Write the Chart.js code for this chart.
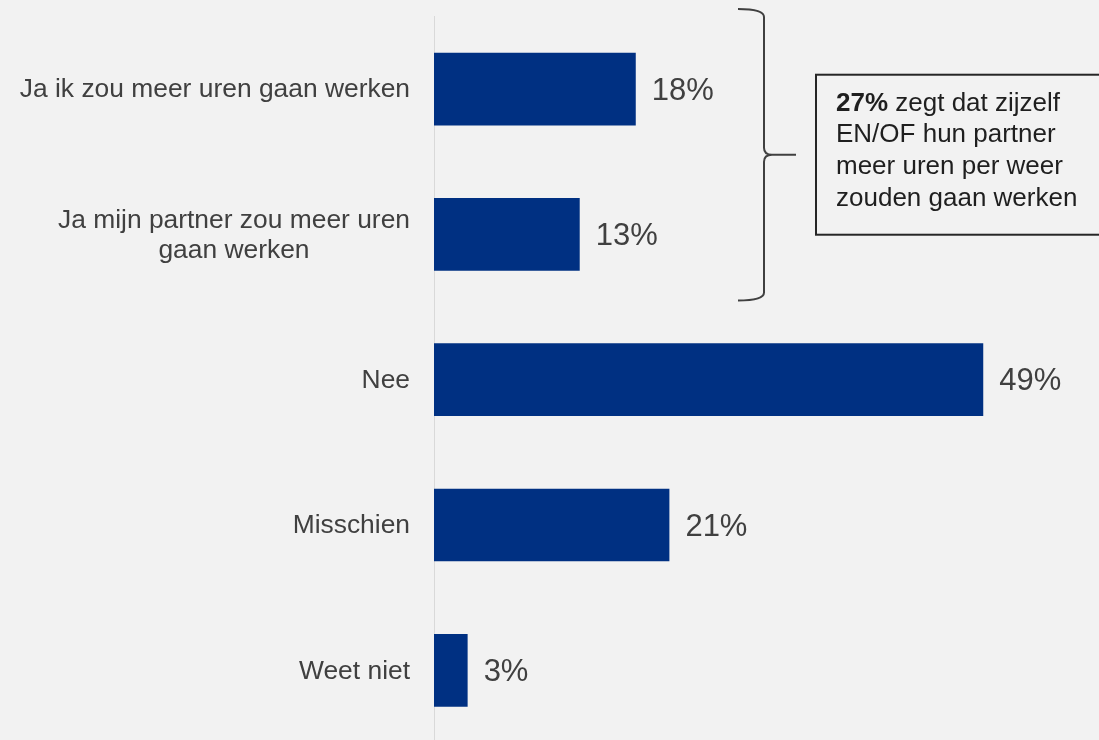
<!DOCTYPE html>
<html>
<head>
<meta charset="utf-8">
<script src="https://cdn.jsdelivr.net/npm/chart.js@4/dist/chart.umd.min.js"></script>
<style>
  html, body { margin: 0; padding: 0; background: #f2f2f2; overflow: hidden; }
  #wrap { width: 1099px; height: 744px; }
</style>
</head>
<body>
<div id="wrap"><canvas id="c" width="1099" height="744"></canvas></div>
<script>
const categories = [
  'Ja ik zou meer uren gaan werken',
  ['Ja mijn partner zou meer uren', 'gaan werken'],
  'Nee',
  'Misschien',
  'Weet niet'
];
const values = [18, 13, 49, 21, 3];
const valueLabels = ['18%', '13%', '49%', '21%', '3%'];
const noteBold = '27%';
const noteLines = [' zegt dat zijzelf', 'EN/OF hun partner', 'meer uren per weer', 'zouden gaan werken'];

const FONT = '"Liberation Sans", Arial, sans-serif';

const categoryLabelPlugin = {
  id: 'categoryLabels',
  afterDraw(chart) {
    const ctx = chart.ctx;
    const ys = chart.scales.y;
    ctx.save();
    ctx.font = '26.4px ' + FONT;
    ctx.fillStyle = '#404040';
    ctx.textAlign = 'center';
    ctx.textBaseline = 'middle';
    const rightEdge = ys.right - 24;
    const lh = 30;
    categories.forEach((lab, i) => {
      const lines = Array.isArray(lab) ? lab : [lab];
      const w = Math.max(...lines.map(l => ctx.measureText(l).width));
      const cx = rightEdge - w / 2;
      const cy = ys.getPixelForValue(i);
      lines.forEach((l, j) => {
        ctx.fillText(l, cx, cy + (j - (lines.length - 1) / 2) * lh + 1);
      });
    });
    ctx.restore();
  }
};

const valueLabelPlugin = {
  id: 'valueLabels',
  afterDatasetsDraw(chart) {
    const ctx = chart.ctx;
    const meta = chart.getDatasetMeta(0);
    ctx.save();
    ctx.font = '31px ' + FONT;
    ctx.fillStyle = '#404040';
    ctx.textAlign = 'left';
    ctx.textBaseline = 'middle';
    meta.data.forEach((bar, i) => {
      ctx.fillText(valueLabels[i], bar.x + 16, bar.y + 2);
    });
    ctx.restore();
  }
};

const notePlugin = {
  id: 'note',
  afterDraw(chart) {
    const ctx = chart.ctx;
    const ys = chart.scales.y;
    const top = ys.getPixelForValue(0) - 80;
    const bottom = ys.getPixelForValue(1) + 66;
    const mid = (top + bottom) / 2;
    const xl = 738, xv = 764, xt = 796;
    ctx.save();
    ctx.strokeStyle = '#404040';
    ctx.lineWidth = 2;
    ctx.beginPath();
    ctx.moveTo(xl, top);
    ctx.quadraticCurveTo(xv, top, xv, top + 8);
    ctx.lineTo(xv, mid - 7);
    ctx.quadraticCurveTo(xv, mid, xv + 8, mid);
    ctx.lineTo(xt, mid);
    ctx.moveTo(xv + 8, mid);
    ctx.quadraticCurveTo(xv, mid, xv, mid + 7);
    ctx.lineTo(xv, bottom - 8);
    ctx.quadraticCurveTo(xv, bottom, xl, bottom);
    ctx.stroke();

    // box
    const bx = 816, by = mid - 80, bw = 300, bh = 160;
    ctx.strokeStyle = '#262626';
    ctx.lineWidth = 2;
    ctx.strokeRect(bx, by, bw, bh);

    ctx.fillStyle = '#1f1f1f';
    ctx.textAlign = 'left';
    ctx.textBaseline = 'alphabetic';
    const tx = 836;
    let base = by + 36;
    ctx.font = 'bold 26px ' + FONT;
    ctx.fillText(noteBold, tx, base);
    const bw0 = ctx.measureText(noteBold).width;
    ctx.font = '26px ' + FONT;
    ctx.fillText(noteLines[0], tx + bw0, base);
    for (let i = 1; i < noteLines.length; i++) {
      base += 31.7;
      ctx.fillText(noteLines[i], tx, base);
    }
    ctx.restore();
  }
};

new Chart(document.getElementById('c'), {
  type: 'bar',
  data: {
    labels: categories,
    datasets: [{
      data: values,
      backgroundColor: '#003082',
      borderWidth: 0,
      categoryPercentage: 1,
      barPercentage: 0.5
    }]
  },
  options: {
    indexAxis: 'y',
    responsive: false,
    animation: false,
    layout: { padding: { top: 16.4, bottom: 1, left: 0, right: 48.5 } },
    plugins: { legend: { display: false }, tooltip: { enabled: false } },
    scales: {
      x: {
        display: false,
        min: 0,
        max: 55
      },
      y: {
        afterFit(scale) {
          scale.width = 434;
          scale.paddingTop = 0;
          scale.paddingBottom = 0;
        },
        grid: { display: false, drawTicks: false },
        border: { display: true, color: '#d9d9d9', width: 1 },
        ticks: {
          color: 'rgba(0,0,0,0)',
          padding: 24,
          font: { family: FONT, size: 26.4, lineHeight: 1.14 }
        }
      }
    }
  },
  plugins: [categoryLabelPlugin, valueLabelPlugin, notePlugin]
});
</script>
</body>
</html>
